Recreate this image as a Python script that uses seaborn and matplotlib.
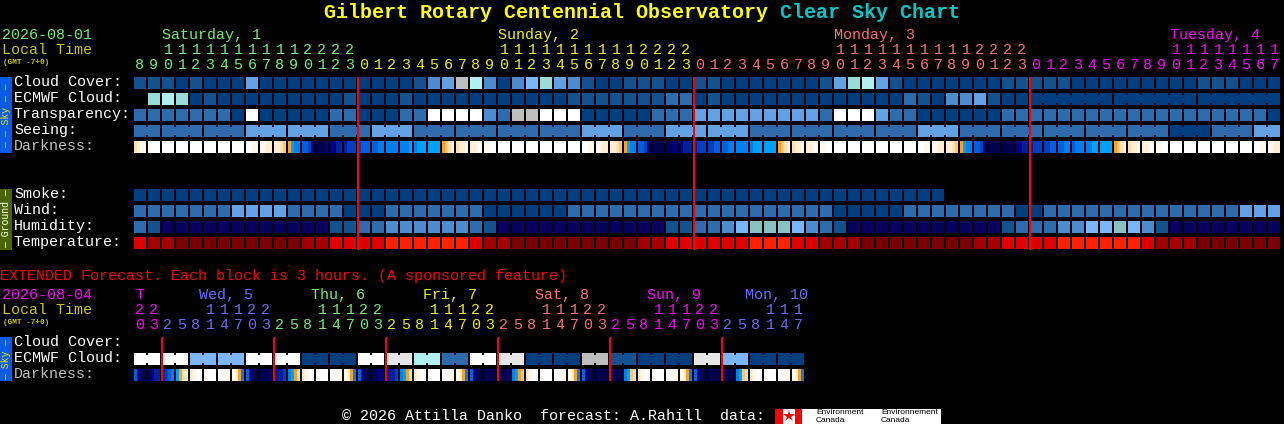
import numpy as np
import matplotlib
matplotlib.use("Agg")
import matplotlib.pyplot as plt
from matplotlib.colors import ListedColormap
import seaborn as sns

W_PX, H_PX = 1284, 424
MONO = "Liberation Mono"

# ---- block palette (index = level) ----
LEVEL_COLORS = ["#003F7F", "#13518F", "#2D6BAC", "#4C8BCE", "#62A1E4", "#7AB7FA",
                "#88C2C0", "#98DCD8", "#B0F0F0", "#BEBEBE", "#E6E6E6", "#FFFFFF",
                "#08005F", "#E00000", "#A50000", "#7A0000", "#FF2000"]
G, L, W, N, T0, T1, T2, T3 = 9, 10, 11, 12, 13, 14, 15, 16
X = np.nan

# ---- darkness palette: hex digit = level ----
DARK_COLORS = ["#FFFFFF", "#FFF8EC", "#FFEFD5", "#FFE0B0", "#FFC878", "#FFA020", "#00A0FF",
               "#0080F0", "#0060E0", "#0040C0", "#0020A0", "#000080", "#000050"]

HOURS = [8, 9, 10, 11, 12, 13, 14, 15, 16, 17, 18, 19, 20, 21, 22, 23,
         0, 1, 2, 3, 4, 5, 6, 7, 8, 9, 10, 11, 12, 13, 14, 15, 16, 17, 18, 19, 20, 21, 22, 23,
         0, 1, 2, 3, 4, 5, 6, 7, 8, 9, 10, 11, 12, 13, 14, 15, 16, 17, 18, 19, 20, 21, 22, 23,
         0, 1, 2, 3, 4, 5, 6, 7, 8, 9, 10, 11, 12, 13, 14, 15, 16, 17]
DAY_COUNTS = [16, 24, 24, 18]
DAY_COLORS = ["#70F070", "#F0F000", "#FF7070", "#FF00FF"]
DAY_NAMES = ["Saturday, 1", "Sunday, 2", "Monday, 3", "Tuesday, 4"]
DAY_NAME_X = [162, 498, 834, 1170]
MIDNIGHTS = [16, 40, 64]

CLOUD = [1, 1, 1, 0, 1, 0, 0, 0, 4, 0, 0, 0, 0, 0, 0, 0,
         0, 0, 0, 0, 1, 3, 4, G, 8, 3, 0, 3, 5, 7, 4, 3, 1, 0, 0, 1, 1, 1, 0, 0,
         1, 1, 0, 0, 0, 0, 0, 0, 0, 1, 4, 7, 8, 4, 1, 0, 0, 0, 0, 0, 0, 0, 1, 1,
         1, 1, 1, 0, 0, 0, 0, 0, 0, 0, 0, 0, 1, 1, 1, 0, 0, 0]
ECMWF = [X, 7, 8, 7, 0, 1, 0, 0, 0, 0, 0, 0, 0, 0, 0, 1,
         0, 0, 0, 1, 0, 0, 0, 0, 0, 0, 0, 0, 0, 0, 0, 1, 1, 1, 1, 1, 1, 1, 2, 2,
         0, 1, 0, 0, 0, 0, 0, 0, 0, 0, 0, 0, 0, 0, 0, 2, 1, 0, 3, 3, 4, 1, 0, 0,
         0, 0, 0, 0, 0, 0, 0, 0, 0, 0, 0, 0, 0, 0, 0, 0, 0, 0]
TRANSP = [2, 2, 2, 2, 2, 2, 2, 0, W, 0, 0, 0, 0, 0, 2, 2,
          0, 0, 0, 2, 2, W, W, W, W, 3, 2, G, G, W, W, W, 0, 0, 0, 0, 0, 2, 2, 2,
          4, 4, 4, 4, 4, 4, 4, 4, 4, 2, W, W, W, 4, 2, 2, 0, 0, 0, 0, 0, 0, 2, 2,
          2, 2, 2, 2, 2, 2, 2, 2, 2, 2, 2, 2, 2, 2, 2, 2, 2, 0]
SEEING = [2, 2, 2, 2, 2, 2, 2, 2, 4, 4, 4, 4, 4, 4, 2, 2, 2, 4, 4, 4, 2, 2, 2, 2, 2, 2,
          2, 2, 2, 2, 2, 2, 4, 4, 4, 2, 2, 2, 4, 4, 4, 4, 4, 4, 2, 2, 2, 2, 2, 2, 2, 2,
          2, 2, 2, 2, 4, 4, 4, 2, 2, 2, 2, 2, 2, 2, 2, 2, 2, 2, 2, 2, 2, 2, 0, 0, 0, 2, 2, 2, 4, 4]
DARKNESS = ["3211", "1000", "0000", "0000", "0000", "0000", "0000", "0000", "0011", "1122",
            "2234", "5677", "889b", "cccb", "bbaa", "a999", "9888", "8877", "7777", "7776",
            "7666", "6666", "5432", "3221", "2211", "1100", "0000", "0000", "0000", "0000",
            "0000", "0000", "0011", "1122", "2234", "5677", "889b", "cccc", "ccbb", "baaa",
            "a999", "9988", "8877", "7777", "7666", "6666", "5432", "3221", "2211", "1100",
            "0000", "0000", "0000", "0000", "0000", "0000", "0011", "1122", "2234", "5677",
            "889b", "cccc", "cccc", "bbaa", "a999", "9988", "8877", "8777", "7766", "6666",
            "5432", "3221", "2211", "1100", "0000", "0000", "0000", "0000", "0000", "0000",
            "0011", "1122"]
SMOKE = [0, 0, 0, 0, 0, 0, 0, 0, 0, 0, 0, 0, 0, 0, 0, 0, 0, 0, 0, 0, 0, 0, 0, 0, 0, 0, 0, 0, 0,
         0, 0, 0, 0, 0, 0, 0, 0, 0, 0, 0, 0, 0, 0, 0, 0, 0, 0, 0, 0, 0, 0, 0, 0, 0, 0, 0, 0, 0,
         X, X, X, X, X, X, X, X, X, X, X, X, X, X, X, X, X, X, X, X, X, X, X, X]
WIND = [2, 2, 2, 2, 2, 2, 2, 4, 4, 4, 4, 2, 2, 2, 2, 0, 0, 0, 2, 2, 2, 2, 2, 2, 2,
        0, 0, 0, 0, 0, 0, 2, 2, 2, 2, 2, 2, 2, 2, 2, 2, 2, 2, 2, 2, 2, 2, 2, 2, 2,
        0, 0, 0, 0, 0, 2, 2, 2, 2, 2, 2, 2, 2, 0, 0, 2, 2, 2, 2, 2, 2, 2, 2, 2, 2, 2, 2, 2, 2,
        4, 4, 4]
HUMIDITY = [2, 1, N, N, N, N, N, N, N, N, N, N, N, N, 1, 1, 2, 2, 3, 3, 3, 3, 3, 3, 2, 1,
            N, N, N, N, N, N, N, N, N, N, N, N, 1, 1, 2, 2, 3, 5, 6, 6, 6, 5, 3, 2, 1,
            N, N, N, N, N, N, N, N, N, N, N, 1, 2, 2, 2, 3, 3, 5, 5, 6, 5, 3, 1,
            N, N, N, N, N, N, N, N]
TEMP = [T0, T1, T1, T2, T2, T2, T2, T2, T2, T2, T2, T2, T1, T1, T0, T0, T0, T0,
        T3, T3, T3, T3, T3, T3, T0, T1, T1, T2, T2, T2, T2, T2, T2, T2, T2, T2, T1, T1,
        T0, T0, T0, T0, T0, T0, T3, T3, T3, T0, T0, T1, T1, T1, T2, T2, T2, T2, T2, T2, T2, T2,
        T1, T1, T0, T0, T0, T0, T3, T3, T3, T3, T3, T3, T0, T1, T1, T1, T2, T2, T2, T2, T2, T2]

EXT_HOURS = [20, 23, 2, 5, 8, 11, 14, 17, 20, 23, 2, 5, 8, 11, 14, 17, 20, 23, 2, 5, 8, 11, 14, 17,
             20, 23, 2, 5, 8, 11, 14, 17, 20, 23, 2, 5, 8, 11, 14, 17, 20, 23, 2, 5, 8, 11, 14, 17]
EXT_DAY_COUNTS = [2, 8, 8, 8, 8, 8, 6]
EXT_DAY_COLORS = ["#FF00FF", "#6A6AFF", "#70F070", "#F0F000", "#FF7070", "#FF00FF", "#6A6AFF"]
EXT_DAY_NAMES = ["T", "Wed, 5", "Thu, 6", "Fri, 7", "Sat, 8", "Sun, 9", "Mon, 10"]
EXT_DAY_X = [135, 199, 311, 423, 535, 647, 745]
EXT_MIDNIGHTS = [2, 10, 18, 26, 34, 42]
EXT_ECMWF = [W, W, W, W, 5, 5, 5, 5, W, W, W, W, 0, 0, 0, 0, W, W, L, L, 8, 8, 2, 2,
             W, W, L, L, 0, 0, 0, 0, G, G, 1, 1, 0, 0, 0, 0, L, L, 5, 5, 0, 0, 0, 0]
EXT_DARKNESS = ["8bcc", "cbaa", "a987", "6532", "2100", "0000", "0011", "1257",
                "8bcc", "cccb", "baa9", "7653", "2100", "0000", "0011", "1257",
                "8bcc", "ccbb", "baa9", "7653", "2100", "0000", "0011", "1257",
                "8bcc", "cccc", "cccb", "7654", "2100", "0000", "0011", "1257",
                "8bcc", "cccc", "cccc", "7643", "2100", "0000", "0011", "1257",
                "8bcc", "cccc", "cccc", "7643", "2100", "0000", "0011", "1257"]

SKY_LABELS = ["Cloud Cover:", "ECMWF Cloud:", "Transparency:", "Seeing:"]
GROUND_LABELS = ["Smoke:", "Wind:", "Humidity:", "Temperature:"]

PITCH = 14      # pixels from one block to the next
BLOCK = 12      # block width and height in pixels
X0 = 134
TXT = 10.8
plt.rcParams["font.family"] = MONO
fig = plt.figure(figsize=(W_PX / 100, H_PX / 100), dpi=100, facecolor="black")
level_cmap = ListedColormap(LEVEL_COLORS)
dark_cmap = ListedColormap(DARK_COLORS)


def px_axes(x, y, w, h, z=1):
    ax = fig.add_axes([x / W_PX, 1 - (y + h) / H_PX, w / W_PX, h / H_PX], zorder=z)
    ax.set_facecolor("black")
    return ax


def expand(samples):
    """One heatmap column per pixel: every block fills BLOCK columns, the gap stays empty."""
    out = []
    for s in samples:
        s = np.atleast_1d(s)
        out.extend(np.repeat(s, BLOCK // len(s)))
        out.extend([np.nan] * (PITCH - BLOCK))
    return np.array(out, dtype=float).reshape(1, -1)


def draw_row(samples, top, cmap, n_levels, bridges=(), bridge_colors=()):
    grid = expand(samples)
    ax = px_axes(X0, top, grid.shape[1], BLOCK)
    sns.heatmap(grid, ax=ax, cmap=cmap, vmin=-0.5, vmax=n_levels - 0.5, cbar=False,
                xticklabels=False, yticklabels=False)
    ax.collections[0].set_antialiased(False)
    ax.autoscale(False)
    for i, c in zip(bridges, bridge_colors):
        ax.bar(PITCH * i + BLOCK, 8 / BLOCK, width=PITCH - BLOCK, bottom=2 / BLOCK, align="edge",
               color=c, linewidth=0, zorder=3)
    return ax


def block_row(values, top, bridges=()):
    bridges = list(bridges)
    colors = [LEVEL_COLORS[int(values[i])] for i in bridges]
    return draw_row(values, top, level_cmap, len(LEVEL_COLORS), bridges, colors)


def dark_row(cells, top):
    samples = [[int(c, 16) for c in cell] for cell in cells]
    return draw_row(samples, top, dark_cmap, len(DARK_COLORS))


# sky panel
block_row(CLOUD, 77)
block_row(ECMWF, 93, [i for i in range(64, 81) if (i + 1 - 64) % 6])
block_row(TRANSP, 109)
block_row(SEEING, 125, [i for i in range(81) if (i + 1 - 2) % 3])
dark_row(DARKNESS, 141)
# ground panel
block_row(SMOKE, 189)
block_row(WIND, 205)
block_row(HUMIDITY, 221)
block_row(TEMP, 237)
# extended panel
block_row(EXT_ECMWF, 353, [i for i in range(47) if i % 2 == 0])
dark_row(EXT_DARKNESS, 369)

# overlay for text, side bars and red lines
ov = fig.add_axes([0, 0, 1, 1], zorder=5)
ov.set_xlim(0, W_PX)
ov.set_ylim(H_PX, 0)
ov.axis("off")
ov.patch.set_alpha(0)


def txt(x, y, s, color="white", size=TXT, **kw):
    kw.setdefault("ha", "left")
    kw.setdefault("va", "center")
    ov.text(x, y, s, color=color, fontsize=size, family=MONO, **kw)


txt(324, 12, "Gilbert Rotary Centennial Observatory", "#FFFF00", 14.4, weight="bold")
txt(780, 12, "Clear Sky Chart", "#00C8C8", 14.4, weight="bold")


def time_header(date, date_col, y_date, hours, counts, colors, names, name_x):
    txt(2, y_date, date, date_col)
    txt(2, y_date + 15, "Local Time", "#C8C800")
    txt(3, y_date + 27, "(GMT -7+0)", "#C8C800", 5.6, weight="bold")
    day_of = np.repeat(np.arange(len(counts)), counts)
    for n, xp, c in zip(names, name_x, colors):
        txt(xp, y_date, n, c)
    for i, h in enumerate(hours):
        c = colors[day_of[i]]
        xc = X0 + PITCH * i + 6
        txt(xc, y_date + 30, str(h % 10), c, ha="center")
        if h >= 10:
            txt(xc, y_date + 15, str(h // 10), c, ha="center")


time_header("2026-08-01", "#70F070", 35, HOURS, DAY_COUNTS, DAY_COLORS, DAY_NAMES, DAY_NAME_X)
time_header("2026-08-04", "#FF00FF", 295, EXT_HOURS, EXT_DAY_COUNTS, EXT_DAY_COLORS, EXT_DAY_NAMES, EXT_DAY_X)

for lab, y in zip(SKY_LABELS, [82, 98, 114, 130]):
    txt(14, y, lab)
txt(14, 146, "Darkness:", "#C0C0C0")
for lab, y in zip(GROUND_LABELS, [194, 210, 226, 242]):
    txt(14, y, lab)
txt(14, 342, "Cloud Cover:")
txt(14, 358, "ECMWF Cloud:")
txt(14, 374, "Darkness:", "#C0C0C0")

txt(0, 276, "EXTENDED Forecast. Each block is 3 hours. (A sponsored feature)", "#FF0000")

# side bars
ov.bar(6, 76, width=12, bottom=77, color="#0A5CE6", linewidth=0)
ov.bar(6, 61, width=12, bottom=189, color="#4C6400", linewidth=0)
ov.bar(6, 44, width=12, bottom=337, color="#0A5CE6", linewidth=0)
txt(6, 116, "\u2014 \u2014 Sky \u2014 \u2014", "#F0F000", 7, rotation=90, ha="center")
txt(6, 219, "\u2014 Ground \u2014", "white", 7, rotation=90, ha="center")
txt(6, 359, "\u2014 Sky \u2014", "#F0F000", 7, rotation=90, ha="center")

# midnight lines
ov.bar([X0 + PITCH * i for i in MIDNIGHTS], 173, width=2, bottom=77, color="#FF0000", linewidth=0)
ov.bar([X0 + PITCH * i for i in EXT_MIDNIGHTS], 44, width=2, bottom=337, color="#FF0000", linewidth=0)

# footer
txt(342, 416, "\u00a9 2026 Attilla Danko  forecast: A.Rahill  data:")
ov.bar(858, 15, width=166, bottom=409, color="white", linewidth=0)
ov.bar(779, 15, width=8, bottom=409, color="#FF0000", linewidth=0)
ov.bar(798.5, 15, width=7, bottom=409, color="#FF0000", linewidth=0)
ov.plot([788.5], [416], marker="*", color="#FF0000", markersize=9, markeredgewidth=0)
for xt, a, b in [(816, "Environment", "Canada"), (881, "Environnement", "Canada")]:
    ov.text(xt, 412.5, a, color="black", fontsize=6, family="Liberation Sans", va="center")
    ov.text(xt, 420.5, b, color="black", fontsize=6, family="Liberation Sans", va="center")

fig.savefig("out.png", dpi=100, facecolor="black")
